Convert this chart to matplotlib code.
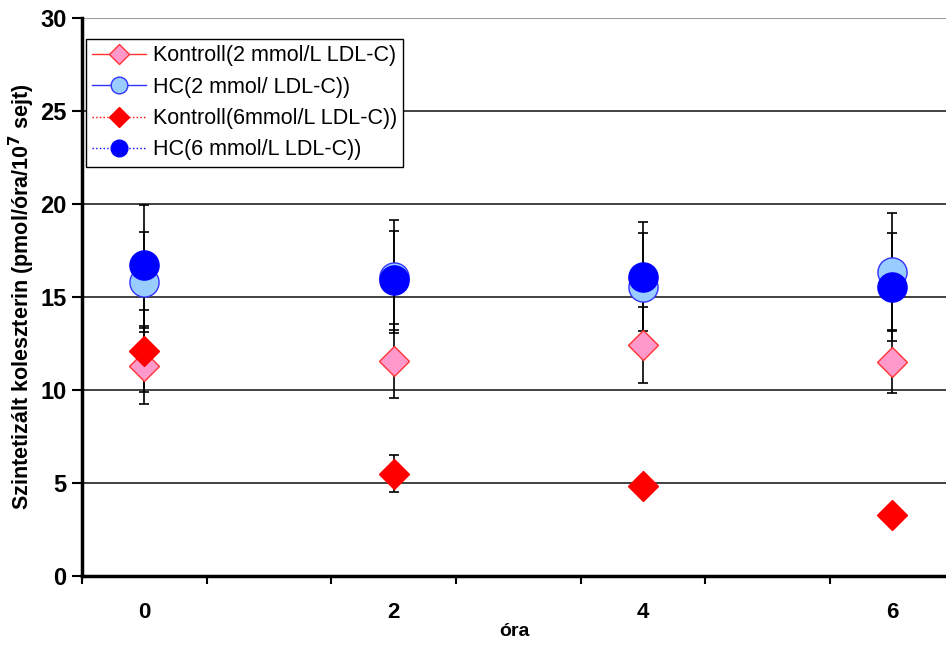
import matplotlib
matplotlib.use("Agg")
import matplotlib.pyplot as plt
from matplotlib.lines import Line2D
import numpy as np

plt.rcParams['font.family'] = ['Liberation Sans', 'DejaVu Sans']

# data
hours = [0, 2, 4, 6]
kontroll2 = [11.3, 11.55, 12.4, 11.5]
kontroll2_err = [2.05, 2.0, 2.05, 1.65]
hc2 = [15.8, 16.1, 15.55, 16.35]
hc2_err = [2.7, 3.05, 2.9, 3.15]
kontroll6 = [12.1, 5.5, 4.85, 3.3]
kontroll6_err = [2.2, 1.0, 0.4, 0.3]
hc6 = [16.7, 15.9, 16.1, 15.55]
hc6_err = [3.25, 2.65, 2.95, 2.9]

labels = ['Kontroll(2 mmol/L LDL-C)', 'HC(2 mmol/ LDL-C))',
          'Kontroll(6mmol/L LDL-C))', 'HC(6 mmol/L LDL-C))']

fig = plt.figure(figsize=(9.46, 6.45), dpi=100)
ax = fig.add_axes([82/946, 69/645, 1 - 82/946, 558/645])

eb = dict(fmt='none', ecolor='black', elinewidth=1.2, capsize=3.5, capthick=1.2, zorder=2)
ax.errorbar(hours, kontroll2, yerr=kontroll2_err, **eb)
ax.errorbar(hours, hc2, yerr=hc2_err, **eb)
ax.errorbar(hours, kontroll6, yerr=kontroll6_err, **eb)
ax.errorbar(hours, hc6, yerr=hc6_err, **eb)

ax.plot(hours, kontroll2, ls='none', marker='D', ms=15, mfc='#ff99cc', mec='#ff3333', mew=1, zorder=3)
ax.plot(hours, hc2, ls='none', marker='o', ms=21, mfc='#99ccff', mec='#3333ff', mew=1, zorder=4)
ax.plot(hours, kontroll6, ls='none', marker='D', ms=15, mfc='#ff0000', mec='#ff0000', mew=1, zorder=5)
ax.plot(hours, hc6, ls='none', marker='o', ms=21, mfc='#0000ff', mec='#0000ff', mew=1, zorder=6)

ax.set_ylim(0, 30)
ax.set_xlim(-0.5, 6.43)
ax.set_yticks(range(0, 31, 5))
for v in range(5, 26, 5):
    ax.axhline(v, color='#333333', lw=1.3, zorder=1)
ax.axhline(30, color='#a0a0a0', lw=1.5, zorder=1)

ax.set_xticks(np.arange(-0.5, 6.0, 1.0))
ax.set_xticklabels([])
ax.set_xticks(hours, minor=True)
ax.set_xticklabels([str(h) for h in hours], minor=True)
ax.tick_params(axis='x', which='major', length=6, width=1.5, direction='out')
ax.tick_params(axis='x', which='minor', length=0, pad=19, labelsize=16)
ax.tick_params(axis='y', length=7, width=1.5, direction='out', labelsize=17, pad=4)
for t in ax.get_xticklabels(minor=True) + ax.get_yticklabels():
    t.set_fontweight('bold')

for s in ['top', 'right']:
    ax.spines[s].set_visible(False)
ax.spines['left'].set_linewidth(2.5)
ax.spines['bottom'].set_linewidth(2.5)

ax.set_xlabel('óra', fontsize=14, fontweight='bold', labelpad=0)
ax.set_ylabel('Szintetizált koleszterin (pmol/óra/10$^{\\mathbf{7}}$ sejt)', fontsize=15.5,
              fontweight='bold')
ax.yaxis.set_label_coords(-0.052, 0.5)

handles = [
    Line2D([], [], color='#ff3333', lw=1, ls='-', marker='D', ms=10, mfc='#ff99cc', mec='#ff3333'),
    Line2D([], [], color='#3333ff', lw=1, ls='-', marker='o', ms=12, mfc='#99ccff', mec='#3333ff'),
    Line2D([], [], color='#ff0000', lw=1, ls=':', marker='D', ms=10, mfc='#ff0000', mec='#ff0000'),
    Line2D([], [], color='#0000ff', lw=1, ls=':', marker='o', ms=12, mfc='#0000ff', mec='#0000ff'),
]
leg = ax.legend(handles, labels, loc='upper left', bbox_to_anchor=(4/864, 1 - 21/558),
                fontsize=15.5, frameon=True, fancybox=False, edgecolor='black',
                framealpha=1, borderpad=0.3, labelspacing=0.48, handlelength=2.5,
                handletextpad=0.3, borderaxespad=0)
leg.get_frame().set_linewidth(1.0)
leg.set_zorder(10)

fig.savefig('out.png', dpi=100)
